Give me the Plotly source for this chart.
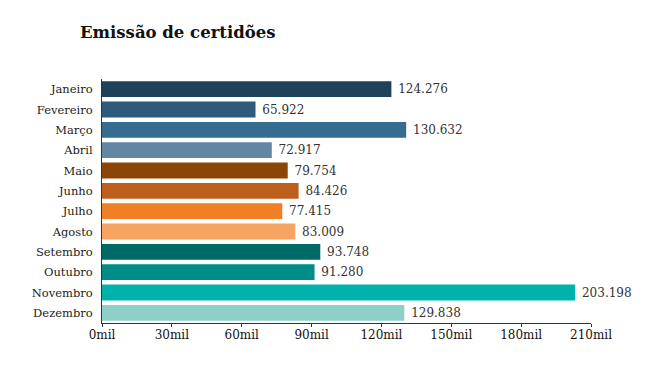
import plotly.graph_objects as go

months = ["Janeiro", "Fevereiro", "Março", "Abril", "Maio", "Junho", "Julho",
          "Agosto", "Setembro", "Outubro", "Novembro", "Dezembro"]
values = [124276, 65922, 130632, 72917, 79754, 84426, 77415, 83009, 93748, 91280, 203198, 129838]
labels = ["124.276", "65.922", "130.632", "72.917", "79.754", "84.426", "77.415",
          "83.009", "93.748", "91.280", "203.198", "129.838"]
colors = ["#1d4259", "#2e5b7c", "#356d91", "#6287a3", "#8b4506", "#bd5e1c", "#f07f26",
          "#f5a462", "#026a66", "#008c87", "#00b3aa", "#8ecfc9"]
tick_vals = [0, 30000, 60000, 90000, 120000, 150000, 180000, 210000]
tick_text = ["0mil", "30mil", "60mil", "90mil", "120mil", "150mil", "180mil", "210mil"]

font = "DejaVu Serif"
fig = go.Figure(go.Bar(
    x=values, y=months, orientation="h",
    marker=dict(color=colors, line=dict(width=0)),
    text=[" " + t for t in labels], textposition="outside", cliponaxis=False,
    textfont=dict(family=font, size=12, color="#333333"),
    width=0.78,
))
fig.update_layout(
    width=660, height=372,
    margin=dict(l=94, r=77, t=71, b=57),
    paper_bgcolor="white", plot_bgcolor="white",
    title=dict(text="<b>Emissão de certidões</b>", x=72/660, xanchor="left",
               y=1 - 24/372, yanchor="middle",
               font=dict(family=font, size=16.5, color="#111111")),
    showlegend=False,
    xaxis=dict(range=[0, 210000], tickvals=tick_vals, ticktext=tick_text,
               showgrid=False, zeroline=False, showline=True, linecolor="#333333",
               linewidth=1, ticks="outside", ticklen=3, tickcolor="#333333",
               ticklabelstandoff=-2,
               tickfont=dict(family=font, size=12, color="#111111")),
    yaxis=dict(autorange="reversed", showgrid=False, showline=True, linecolor="#333333",
               linewidth=1, ticks="", ticklabelstandoff=6,
               tickfont=dict(family=font, size=11.5, color="#222222")),
)
fig.write_html("out.html")
